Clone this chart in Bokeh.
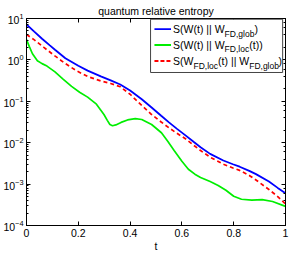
from bokeh.plotting import figure
from bokeh.models import (LogAxis, LinearAxis, Label, BoxAnnotation, Range1d,
                          CustomJSTickFormatter, FixedTicker, LogTicker, Arrow)
from bokeh.embed import file_html
from bokeh.resources import INLINE

# ---------------- data ----------------
t_glob = [0.0, 0.03, 0.06, 0.09, 0.11, 0.15, 0.2, 0.236, 0.287, 0.325, 0.362, 0.4,
          0.445, 0.483, 0.52, 0.55, 0.58, 0.615, 0.645, 0.672, 0.709, 0.76, 0.797,
          0.823, 0.86, 0.886, 0.936, 0.97, 1.0]
s_glob = [7.2, 4.8, 3.24, 2.24, 1.76, 1.10, 0.72, 0.55, 0.40, 0.32, 0.255, 0.182,
          0.112, 0.0708, 0.0447, 0.0309, 0.0219, 0.0148, 0.0105, 0.00776, 0.00537, 0.00372, 0.00302,
          0.00263, 0.00209, 0.00174, 0.00115, 0.00081, 0.0006]

t_loc = [0.0, 0.011, 0.023, 0.042, 0.06, 0.079, 0.11, 0.14, 0.174, 0.205, 0.236, 0.27,
         0.299, 0.312, 0.322, 0.332, 0.345, 0.365, 0.39, 0.42, 0.445, 0.483, 0.521, 0.546,
         0.57, 0.6, 0.625, 0.65, 0.672, 0.709, 0.74, 0.77, 0.8, 0.83, 0.87, 0.91, 0.95, 1.0]
s_loc = [3.09, 2.09, 1.41, 0.955, 0.813, 0.708, 0.513, 0.347, 0.229, 0.166, 0.126, 0.0851,
         0.0479, 0.0347, 0.0275, 0.0257, 0.0269, 0.0309, 0.0355, 0.038, 0.0363, 0.0275, 0.0174, 0.0107,
         0.00646, 0.00355, 0.00229, 0.00174, 0.00145, 0.00115, 0.00093, 0.00071, 0.00051, 0.00043,
         0.00041, 0.00042, 0.00038, 0.00029]

t_fd = [0.0, 0.029, 0.067, 0.111, 0.148, 0.192, 0.236, 0.287, 0.325, 0.362, 0.4,
        0.445, 0.483, 0.52, 0.55, 0.58, 0.615, 0.645, 0.672, 0.709, 0.76, 0.797,
        0.823, 0.86, 0.886, 0.936, 0.97, 1.0]
s_fd = [4.11, 3.09, 2.0, 1.23, 0.832, 0.55, 0.398, 0.309, 0.269, 0.224, 0.148,
        0.0794, 0.0479, 0.0316, 0.0229, 0.017, 0.0123, 0.0087, 0.00646, 0.00447, 0.00302, 0.00245,
        0.00214, 0.00162, 0.00126, 0.00074, 0.0005, 0.00033]

x_ticks = [0, 0.2, 0.4, 0.6, 0.8, 1]
x_tick_labels = ["0", "0.2", "0.4", "0.6", "0.8", "1"]

title_text = "quantum relative entropy"
x_label = "t"

FONT = "Liberation Sans"
FS = "10.5px"
SUB_FS = "8.5px"

p = figure(frame_width=259, frame_height=207, y_axis_type="log",
           x_range=Range1d(0, 1), y_range=Range1d(1e-4, 10),
           output_backend="svg", toolbar_location=None, title=title_text,
           min_border_left=0, min_border_right=4, min_border_top=0, min_border_bottom=0)

p.title.text_font = FONT
p.title.text_font_size = FS
p.title.text_font_style = "normal"
p.title.align = "center"
p.title.text_color = "black"
p.title.standoff = 4

p.xgrid.visible = False
p.ygrid.visible = False
p.outline_line_color = "black"
p.background_fill_color = "white"
p.border_fill_color = "white"

p.xaxis.ticker = FixedTicker(ticks=x_ticks)
p.xaxis.major_label_overrides = dict(zip(x_ticks, x_tick_labels))
p.xaxis.axis_label = x_label

for ax in [p.xaxis[0], p.yaxis[0]]:
    ax.major_tick_in = 4
    ax.major_tick_out = 0
    ax.minor_tick_in = 2
    ax.minor_tick_out = 0
    ax.axis_line_color = "black"
    ax.major_tick_line_color = "black"
    ax.minor_tick_line_color = "black"
    ax.major_label_text_font = FONT
    ax.major_label_text_font_size = FS
    ax.major_label_text_color = "black"
    ax.major_label_standoff = 3
    ax.axis_label_text_font = FONT
    ax.axis_label_text_font_size = FS
    ax.axis_label_text_font_style = "normal"
    ax.axis_label_text_color = "black"
    ax.axis_label_standoff = 0
p.xaxis.minor_tick_line_color = None

blank = CustomJSTickFormatter(code="return ''")
top = LinearAxis(ticker=FixedTicker(ticks=x_ticks), formatter=blank,
                 major_tick_in=4, major_tick_out=0, minor_tick_line_color=None,
                 axis_line_color="black", major_label_standoff=0)
right = LogAxis(ticker=LogTicker(), formatter=CustomJSTickFormatter(code="return ''"),
                major_tick_in=4, major_tick_out=0, minor_tick_in=2, minor_tick_out=0,
                axis_line_color="black", major_label_standoff=0)
p.add_layout(top, "above")
p.add_layout(right, "right")

BLUE = "#0000ff"
GREEN = "#00ee00"
RED = "#ff0000"

p.line(t_glob, s_glob, line_color=BLUE, line_width=1.8)
p.line(t_loc, s_loc, line_color=GREEN, line_width=1.7)
p.line(t_fd, s_fd, line_color=RED, line_width=1.7, line_dash="4 3")

# ---------------- legend (manual, for subscripts) ----------------
leg_left, leg_right = 0.479, 0.989
leg_top, leg_bottom = 10 ** 0.983, 10 ** -0.304
p.add_layout(BoxAnnotation(left=leg_left, right=leg_right, top=leg_top, bottom=leg_bottom,
                           fill_color="white", fill_alpha=1.0, line_color="#444444",
                           line_width=1, line_alpha=1.0))

rows_y = [10 ** 0.742, 10 ** 0.36, 10 ** -0.027]
line_x0, line_x1, text_x = 0.494, 0.558, 0.566
row_colors = [BLUE, GREEN, RED]
row_dash = ["solid", "solid", "4 2"]
# pieces: (text, is_subscript, x_offset_px)
row_pieces = [
    [("S(W(t) || W", False, 0), ("FD,glob", True, 51.5), (")", False, 81.5)],
    [("S(W(t) || W", False, 0), ("FD,loc", True, 51.5), ("(t))", False, 76.2)],
    [("S(W", False, 0), ("FD,loc", True, 20.4), ("(t) || W", False, 45.0),
     ("FD,glob", True, 76.1), (")", False, 105.5)],
]

for ry, col, dash, pieces in zip(rows_y, row_colors, row_dash, row_pieces):
    p.add_layout(Arrow(x_start=line_x0, y_start=ry, x_end=line_x1, y_end=ry, end=None,
                       line_color=col, line_width=1.8, line_dash=dash))
    for txt, sub, xo in pieces:
        p.add_layout(Label(x=text_x, y=ry, text=txt, x_offset=xo,
                           y_offset=-4.5 if sub else 0,
                           text_font=FONT, text_font_size=SUB_FS if sub else FS,
                           text_baseline="middle", text_align="left", text_color="black"))

open("out.html", "w").write(file_html(p, INLINE))
